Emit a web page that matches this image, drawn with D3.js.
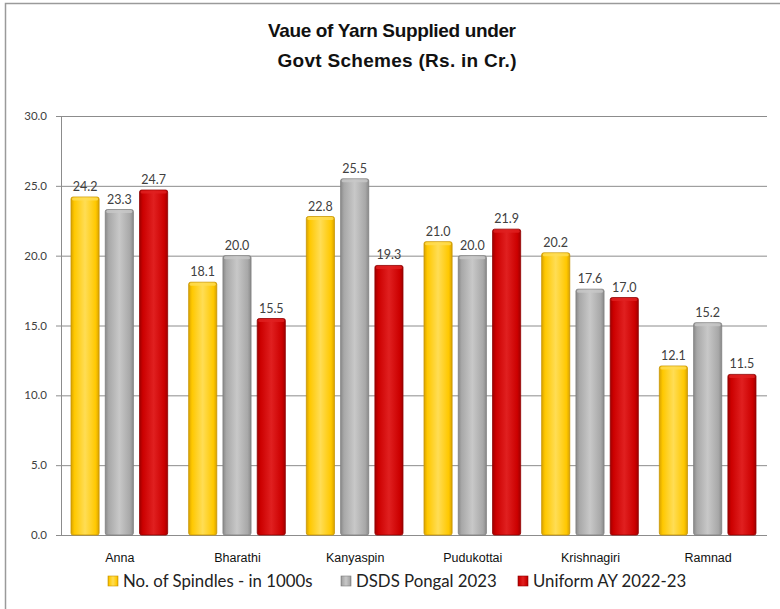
<!DOCTYPE html>
<html><head><meta charset="utf-8">
<script src="https://cdn.jsdelivr.net/npm/d3@7"></script>
<style>body{margin:0;background:#fff}svg{display:block}</style>
</head><body><svg id="c" width="780" height="609"></svg>
<script>
const categories = ["Anna","Bharathi","Kanyaspin","Pudukottai","Krishnagiri","Ramnad"];
const seriesNames = ["No. of Spindles - in 1000s","DSDS Pongal 2023","Uniform AY 2022-23"];
const spindles = [24.2,18.1,22.8,21.0,20.2,12.1];
const dsds = [23.3,20.0,25.5,20.0,17.6,15.2];
const uniform = [24.7,15.5,19.3,21.9,17.0,11.5];
const yTicks = [0,5,10,15,20,25,30];
const titleLines = ["Vaue of Yarn Supplied under","Govt Schemes (Rs. in Cr.)"];

(function(){
const colors = [
  {main:"#FFC800", light:"#FFDD55", dark:"#D9A300", edge:"#C89400"},
  {main:"#A8A8A8", light:"#C8C8C8", dark:"#8A8A8A", edge:"#7E7E7E"},
  {main:"#CC0000", light:"#E02020", dark:"#A00000", edge:"#900000"}
];
const seriesVals = [spindles, dsds, uniform];

const svg = d3.select("#c");
const defs = svg.append("defs");
colors.forEach((c,i)=>{
  const g = defs.append("linearGradient").attr("id","g"+i).attr("x1","0").attr("x2","1").attr("y1","0").attr("y2","0");
  g.append("stop").attr("offset","0").attr("stop-color",c.dark);
  g.append("stop").attr("offset","0.12").attr("stop-color",c.main);
  g.append("stop").attr("offset","0.5").attr("stop-color",c.light);
  g.append("stop").attr("offset","0.88").attr("stop-color",c.main);
  g.append("stop").attr("offset","1").attr("stop-color",c.dark);
});

svg.append("rect").attr("x",5.5).attr("y",3.5).attr("width",800).attr("height",700)
  .attr("fill","none").attr("stroke","#9a9a9a").attr("stroke-width",1.5);

const pl = 61, pr = 767, pt = 116, pb = 535;
const x0 = d3.scaleBand().domain(categories).range([pl,pr]).paddingInner(0).paddingOuter(0);
const x1 = d3.scaleBand().domain([0,1,2]).range([10, x0.bandwidth()-11]).paddingInner(0.18).paddingOuter(0);
const y = d3.scaleLinear().domain([0,30]).range([pb,pt]);

svg.append("g").selectAll("line").data(yTicks).join("line")
  .attr("x1",pl-5).attr("x2",pr).attr("y1",d=>y(d)+0.5).attr("y2",d=>y(d)+0.5)
  .attr("stroke","#8c8c8c").attr("stroke-width",1);
svg.append("line").attr("x1",pl+0.5).attr("x2",pl+0.5).attr("y1",pt).attr("y2",pb)
  .attr("stroke","#8c8c8c");

svg.append("g").selectAll("text").data(yTicks).join("text")
  .attr("x",47).attr("y",d=>y(d)+4).attr("text-anchor","end")
  .attr("font-family","Lato, 'Open Sans', sans-serif").attr("font-size",11.5).attr("fill","#404040")
  .text(d=>d3.format(".1f")(d));

const groups = svg.append("g").selectAll("g").data(categories).join("g")
  .attr("transform",d=>`translate(${x0(d)},0)`);
groups.each(function(cat,ci){
  const g = d3.select(this);
  [0,1,2].forEach(si=>{
    const v = seriesVals[si][ci];
    const bx = x1(si), bw = x1.bandwidth();
    g.append("rect").attr("x",bx).attr("y",y(v)).attr("width",bw).attr("height",y(0)-y(v))
      .attr("rx",2).attr("fill",`url(#g${si})`).attr("stroke",colors[si].edge).attr("stroke-width",0.8);
    g.append("rect").attr("x",bx+1).attr("y",y(v)+0.5).attr("width",bw-2).attr("height",3)
      .attr("rx",1.5).attr("fill",colors[si].light).attr("opacity",0.8);
    g.append("text").attr("x",bx+bw/2).attr("y",y(v)-6).attr("text-anchor","middle")
      .attr("font-family","Lato, 'Open Sans', sans-serif").attr("font-size",12.5).attr("fill","#404040")
      .text(d3.format(".1f")(v));
  });
});

svg.append("g").selectAll("text").data(categories).join("text")
  .attr("x",d=>x0(d)+x0.bandwidth()/2).attr("y",562).attr("text-anchor","middle")
  .attr("font-family","'Liberation Sans', Arial, sans-serif").attr("font-size",12.5).attr("fill","#111")
  .text(d=>d);

const titleX = [392, 397], titleY = [37, 67], titleW = [248, 239];
svg.append("g").selectAll("text").data(titleLines).join("text")
  .attr("x",(d,i)=>titleX[i]).attr("y",(d,i)=>titleY[i]).attr("text-anchor","middle")
  .attr("font-family","'Liberation Sans', Arial, sans-serif").attr("font-weight","bold")
  .attr("font-size",19).attr("fill","#111")
  .attr("textLength",(d,i)=>titleW[i]).attr("lengthAdjust","spacing")
  .text(d=>d);

const legendX = [108, 341, 518];
const lg = svg.append("g").selectAll("g").data(seriesNames).join("g")
  .attr("transform",(d,i)=>`translate(${legendX[i]},576)`);
lg.append("rect").attr("x",0).attr("y",0).attr("width",10).attr("height",10)
  .attr("fill",(d,i)=>`url(#g${i})`).attr("stroke",(d,i)=>colors[i].edge).attr("stroke-width",0.6);
lg.append("text").attr("x",15).attr("y",11)
  .attr("font-family","Lato, 'Open Sans', sans-serif").attr("font-size",16.8).attr("fill","#222")
  .text(d=>d);
})();
</script></body></html>
